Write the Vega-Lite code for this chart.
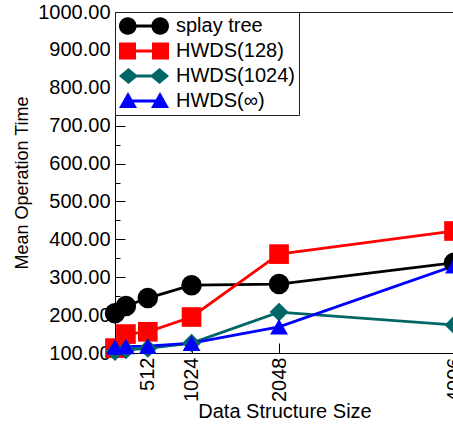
{
  "$schema": "https://vega.github.io/schema/vega-lite/v6.json",
  "autosize": "none",
  "width": 339,
  "height": 341,
  "padding": {"left": 115, "top": 12, "right": 0, "bottom": 77},
  "background": "white",
  "config": {
    "font": "Liberation Sans",
    "view": {"stroke": "#222", "strokeWidth": 1},
    "axis": {"grid": false, "domainColor": "#000", "tickColor": "#000", "labelColor": "#000", "titleColor": "#000", "labelFont": "Liberation Sans", "titleFont": "Liberation Sans", "titleFontWeight": "normal", "labelFlush": false, "labelOverlap": false, "labelBound": false}
  },
  "data": {"values": [
    {"size": 128, "value": 205, "series": "splay tree"},
    {"size": 256, "value": 224, "series": "splay tree"},
    {"size": 512, "value": 245, "series": "splay tree"},
    {"size": 1024, "value": 279, "series": "splay tree"},
    {"size": 2048, "value": 282, "series": "splay tree"},
    {"size": 4096, "value": 338, "series": "splay tree"},
    {"size": 128, "value": 113, "series": "HWDS(128)"},
    {"size": 256, "value": 150, "series": "HWDS(128)"},
    {"size": 512, "value": 156, "series": "HWDS(128)"},
    {"size": 1024, "value": 195, "series": "HWDS(128)"},
    {"size": 2048, "value": 361, "series": "HWDS(128)"},
    {"size": 4096, "value": 422, "series": "HWDS(128)"},
    {"size": 128, "value": 104, "series": "HWDS(1024)"},
    {"size": 256, "value": 108, "series": "HWDS(1024)"},
    {"size": 512, "value": 112, "series": "HWDS(1024)"},
    {"size": 1024, "value": 126, "series": "HWDS(1024)"},
    {"size": 2048, "value": 208, "series": "HWDS(1024)"},
    {"size": 4096, "value": 174, "series": "HWDS(1024)"},
    {"size": 128, "value": 116, "series": "HWDS(∞)"},
    {"size": 256, "value": 117, "series": "HWDS(∞)"},
    {"size": 512, "value": 118, "series": "HWDS(∞)"},
    {"size": 1024, "value": 126, "series": "HWDS(∞)"},
    {"size": 2048, "value": 169, "series": "HWDS(∞)"},
    {"size": 4096, "value": 330, "series": "HWDS(∞)"}
  ]},
  "encoding": {
    "x": {"field": "size", "type": "quantitative", "title": "Data Structure Size",
      "scale": {"domain": [128, 4096], "nice": false, "zero": false},
      "axis": {"values": [512, 1024, 2048, 4096], "format": "d", "labelAngle": 270, "labelAlign": "right", "labelBaseline": "middle", "tickSize": -10, "labelPadding": 14, "labelFontSize": 20, "titleFontSize": 20, "titlePadding": 0}},
    "y": {"field": "value", "type": "quantitative", "title": "Mean Operation Time",
      "scale": {"domain": [100, 1000], "nice": false, "zero": false},
      "axis": {"values": [100,150,200,250,300,350,400,450,500,550,600,650,700,750,800,850,900,950,1000],
        "labelExpr": "datum.value % 100 == 0 ? format(datum.value, '.2f') : ''",
        "tickSize": {"condition": {"test": "datum.value % 100 == 0", "value": -10}, "value": -5},
        "labelPadding": 15, "labelFontSize": 20, "titleFontSize": 18, "titlePadding": 6}}
  },
  "layer": [
    {
      "mark": {"type": "line", "strokeWidth": 2.8},
      "encoding": {
        "color": {"field": "series", "type": "nominal", "legend": null,
          "scale": {"domain": ["splay tree", "HWDS(128)", "HWDS(1024)", "HWDS(∞)"], "range": ["#000000", "#ff0000", "#006666", "#0000ff"]}}
      }
    },
    {
      "mark": {"type": "point", "filled": true, "opacity": 1},
      "encoding": {
        "color": {"field": "series", "type": "nominal", "legend": null,
          "scale": {"domain": ["splay tree", "HWDS(128)", "HWDS(1024)", "HWDS(∞)"], "range": ["#000000", "#ff0000", "#006666", "#0000ff"]}},
        "shape": {"field": "series", "type": "nominal", "legend": null,
          "scale": {"domain": ["splay tree", "HWDS(128)", "HWDS(1024)", "HWDS(∞)"], "range": ["circle", "square", "diamond", "triangle-up"]}},
        "size": {"field": "series", "type": "nominal", "legend": null,
          "scale": {"domain": ["splay tree", "HWDS(128)", "HWDS(1024)", "HWDS(∞)"], "range": [420, 320, 360, 380]}}
      }
    },
    {
      "transform": [{"filter": "datum.size < 0"}],
      "mark": {"type": "point", "filled": true, "opacity": 1},
      "encoding": {
        "color": {"field": "series", "type": "nominal",
          "scale": {"domain": ["splay tree", "HWDS(128)", "HWDS(1024)", "HWDS(∞)"], "range": ["#000000", "#ff0000", "#006666", "#0000ff"]},
          "legend": {"title": null, "orient": "top-left", "offset": 0, "strokeColor": "#222", "fillColor": "white", "padding": 4, "labelFontSize": 20, "labelFont": "Liberation Sans", "labelColor": "#000", "symbolSize": 400, "symbolOpacity": 1, "symbolStrokeWidth": 0, "symbolOffset": 15, "labelOffset": 22, "rowPadding": 5}},
        "shape": {"field": "series", "type": "nominal",
          "scale": {"domain": ["splay tree", "HWDS(128)", "HWDS(1024)", "HWDS(∞)"], "range": [
            "M-2.5,0A0.88,0.88,0,1,1,-0.74,0A0.88,0.88,0,1,1,-2.5,0ZM0.74,0A0.88,0.88,0,1,1,2.5,0A0.88,0.88,0,1,1,0.74,0ZM-1.6,-0.15H1.6V0.15H-1.6Z",
            "M-2.5,-0.85H-0.8V0.85H-2.5ZM0.8,-0.85H2.5V0.85H0.8ZM-1.6,-0.15H1.6V0.15H-1.6Z",
            "M-2.5,0L-1.55,-0.8L-0.6,0L-1.55,0.8ZM0.6,0L1.55,-0.8L2.5,0L1.55,0.8ZM-1.6,-0.15H1.6V0.15H-1.6Z",
            "M-2.5,0.7L-1.6,-0.9L-0.7,0.7ZM0.7,0.7L1.6,-0.9L2.5,0.7ZM-1.6,-0.15H1.6V0.15H-1.6Z"
          ]}}
      }
    }
  ],
  "resolve": {"scale": {"color": "independent", "shape": "independent", "size": "independent"}}
}
